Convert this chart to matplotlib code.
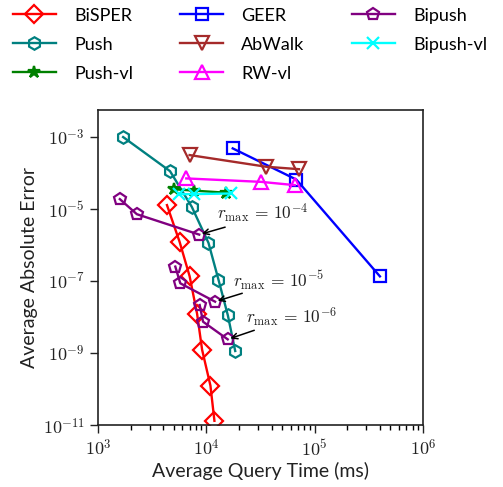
import matplotlib
matplotlib.use("Agg")
import matplotlib.pyplot as plt
from matplotlib.ticker import LogLocator, FixedLocator, NullLocator, FuncFormatter
import numpy as np

plt.rcParams["mathtext.fontset"] = "cm"
plt.rcParams["font.family"] = ["Lato", "DejaVu Sans"]

# time (ms), error
bisper_t = [4325, 5660, 7000, 8200, 9125, 10900, 11860]
bisper_e = [1.27e-5, 1.21e-6, 1.35e-7, 1.24e-8, 1.24e-9, 1.24e-10, 1.32e-11]

push_t = [1703, 4615, 7328, 10450, 12920, 15780, 18450]
push_e = [9.8e-4, 1.11e-4, 1.14e-5, 1.14e-6, 1.09e-7, 1.11e-8, 1.14e-9]

pushvl_t = [5020, 7690, 15200]
pushvl_e = [3.5e-5, 3.2e-5, 2.8e-5]

geer_t = [17500, 67600, 400000]
geer_e = [4.75e-4, 6.5e-5, 1.34e-7]

abwalk_t = [7000, 35700, 71600]
abwalk_e = [3.1e-4, 1.47e-4, 1.26e-4]

rwvl_t = [6520, 32070, 65300]
rwvl_e = [6.98e-5, 5.6e-5, 4.55e-5]

# Bipush: one curve per r_max
bipush_t = [[1588, 2280, 8580], [5165, 5740, 12030], [8670, 9310, 15730]]
bipush_e = [[1.86e-5, 7.1e-6, 1.93e-6], [2.5e-7, 8.6e-8, 2.66e-8], [2.15e-8, 7.4e-9, 2.4e-9]]
rmax_labels = [r"$r_{\max}\, =\, 10^{-4}$", r"$r_{\max}\, =\, 10^{-5}$", r"$r_{\max}\, =\, 10^{-6}$"]
rmax_text_pos = [(10**4.10, 10**-5.12), (10**4.247, 10**-6.98), (10**4.367, 10**-8.01)]
rmax_tail_pos = [(10**4.173, 10**-5.508), (10**4.331, 10**-7.342), (10**4.442, 10**-8.369)]

bipushvl_t = [5530, 7620, 16700]
bipushvl_e = [2.56e-5, 2.56e-5, 2.67e-5]

fig = plt.figure(figsize=(5.03, 4.87), dpi=100)
ax = fig.add_axes([0.195, 0.127, 0.646, 0.647])

lw = 1.7
mw = 1.6
ax.plot(bisper_t, bisper_e, color="red", marker="D", ms=9, mfc="none", mew=mw, lw=lw, label="BiSPER")
ax.plot(push_t, push_e, color="#008080", marker="h", ms=9, mfc="none", mew=mw, lw=lw, label="Push")
ax.plot(pushvl_t, pushvl_e, color="green", marker="*", ms=9, mew=mw, lw=lw, label="Push-vl")
ax.plot(geer_t, geer_e, color="blue", marker="s", ms=9, mfc="none", mew=mw, lw=lw, label="GEER")
ax.plot(abwalk_t, abwalk_e, color="#a52a2a", marker="v", ms=10, mfc="none", mew=mw, lw=lw, label="AbWalk")
ax.plot(rwvl_t, rwvl_e, color="magenta", marker="^", ms=10, mfc="none", mew=mw, lw=lw, label="RW-vl")
for i, (bt, be) in enumerate(zip(bipush_t, bipush_e)):
    ax.plot(bt, be, color="purple", marker="p", ms=9, mfc="none", mew=mw, lw=lw,
            label="Bipush" if i == 0 else None)
ax.plot(bipushvl_t, bipushvl_e, color="cyan", marker="x", ms=9, mew=mw, lw=lw, label="Bipush-vl")

for bt, be, lab, pos, tail in zip(bipush_t, bipush_e, rmax_labels, rmax_text_pos, rmax_tail_pos):
    ax.annotate("", xy=(bt[-1], be[-1]), xytext=tail,
                arrowprops=dict(arrowstyle="->", color="black", lw=1.1, shrinkA=0, shrinkB=2))
    ax.text(pos[0], pos[1], lab, fontsize=12.5, color="#222222", va="center", ha="left")

ax.set_xscale("log")
ax.set_yscale("log")
ax.set_xlim(1e3, 1e6)
ax.set_ylim(1e-11, 10**-2.26)
ax.yaxis.set_major_locator(FixedLocator([1e-11, 1e-9, 1e-7, 1e-5, 1e-3]))
ax.yaxis.set_minor_locator(NullLocator())
ax.xaxis.set_major_locator(LogLocator(base=10))
ax.xaxis.set_minor_locator(LogLocator(base=10, subs=range(2, 10)))
pow_fmt = FuncFormatter(lambda v, p: r"$10^{%d}$" % int(round(np.log10(v))))
ax.xaxis.set_major_formatter(pow_fmt)
ax.yaxis.set_major_formatter(pow_fmt)
ax.tick_params(which="major", length=6, width=1, labelsize=13, colors="#222222")
ax.tick_params(which="minor", length=3.5, width=1)
for s in ax.spines.values():
    s.set_linewidth(1.2)
    s.set_color("#222222")

ax.set_xlabel("Average Query Time (ms)", fontsize=14, color="#222222", labelpad=2)
ax.set_ylabel("Average Absolute Error", fontsize=14, color="#222222", labelpad=3)

handles, labels = ax.get_legend_handles_labels()
fig.legend(handles, labels, loc="upper left", bbox_to_anchor=(0.0, 1.01), ncol=3,
           frameon=False, fontsize=13, handlelength=2.4, labelspacing=0.72,
           columnspacing=2.6, handletextpad=1.0, borderaxespad=0.3)

fig.savefig("out.png", dpi=100)
